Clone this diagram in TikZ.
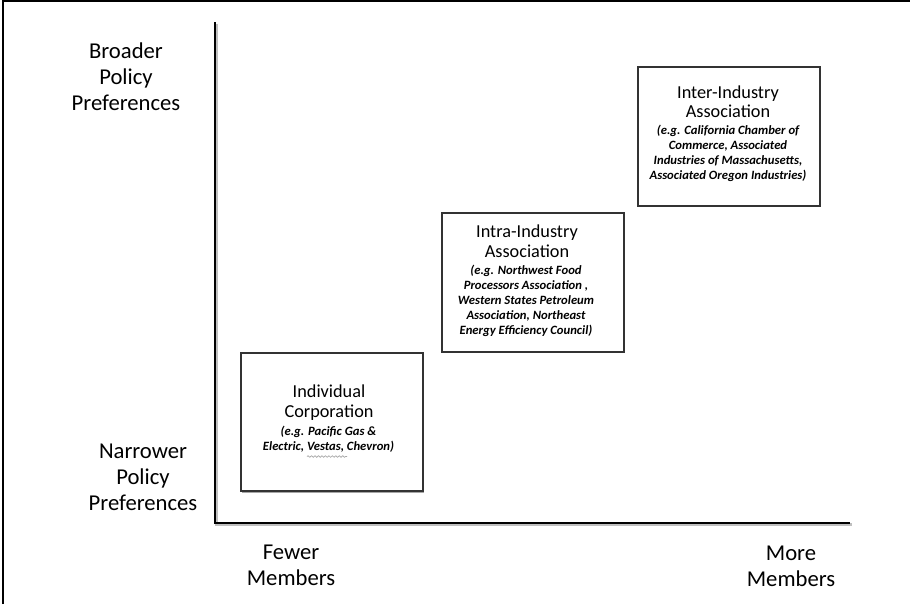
\documentclass[tikz,border=0pt]{standalone}
\usepackage{fontspec}
\setmainfont{Carlito}
\usetikzlibrary{shadows,decorations.pathmorphing}
\begin{document}
\begin{tikzpicture}[x=0.75pt,y=-0.75pt,
  axislabel/.style={align=center,inner sep=0pt,font=\fontsize{17}{19.5}\selectfont},
  catbox/.style={draw=black!80,line width=1.5pt,fill=white,inner sep=0pt,
     minimum width=136.5pt,minimum height=104pt,
     drop shadow={shadow xshift=0.9pt,shadow yshift=-0.9pt,opacity=0.35,fill=black}},
  boxtitle/.style={align=center,inner sep=0pt,font=\fontsize{13.7}{14.6}\selectfont},
  boxnote/.style={align=center,inner sep=0pt,font=\fontsize{9.5}{11.25}\selectfont\bfseries\itshape},
  axisline/.style={line width=2.2pt,black,line join=miter},
  axisshadow/.style={line width=2.2pt,black,opacity=0.25,line join=miter},
  framelines/.style={line width=1.4pt,black}
]
\useasboundingbox (0,0) rectangle (910,604);
\fill[white] (0,0) rectangle (910,604);

% outer frame (left and top edges)
\coordinate (fbl) at (3,604);
\coordinate (ftl) at (3,1);
\coordinate (ftr) at (910,1);
\draw[framelines] (fbl) -- (ftl) -- (ftr);

% axes
\coordinate (ytop) at (215,22);
\coordinate (orig) at (215,523);
\coordinate (xend) at (850,523);
\draw[axisshadow] ([shift={(1.5,1.5)}]ytop) -- ([shift={(1.5,1.5)}]orig) -- ([shift={(1.5,1.5)}]xend);
\draw[axisline] (ytop) -- (orig) -- (xend);

% axis labels
\node[axislabel] (broad) at (126,77) {Broader\\Policy\\Preferences};
\node[axislabel] (narrow) at (143,477) {Narrower\\Policy\\Preferences};
\node[axislabel] (fewer) at (291,565) {Fewer\\Members};
\node[axislabel] (more) at (791,566) {More\\Members};

% boxes
\node[catbox] (b1) at (331.5,422) {};
\node[catbox] (b2) at (533,282.5) {};
\node[catbox] (b3) at (729,136.5) {};

% box 1 text
\node[boxtitle] (b1t) at (329,402.8) {Individual\\Corporation};
\node[boxnote] (b1n) at (328.5,439) {(e.g. Pacific Gas \&\\Electric, Vestas, Chevron)};
\coordinate (vs1) at (307,456.5);
\coordinate (vs2) at (347,456.5);
\draw[gray!70,line width=0.5pt,decorate,decoration={snake,amplitude=0.6pt,segment length=2.6pt}] (vs1) -- (vs2);

% box 2 text
\node[boxtitle] (b2t) at (527,241) {Intra-Industry\\Association};
\node[boxnote] (b2n) at (526,301) {(e.g. Northwest Food\\Processors Association ,\\Western States Petroleum\\Association, Northeast\\Energy Efficiency Council)};

% box 3 text
\node[boxtitle] (b3t) at (728,101.5) {Inter-Industry\\Association};
\node[boxnote] (b3n) at (728,153.5) {(e.g. California Chamber of\\Commerce, Associated\\Industries of Massachusetts,\\Associated Oregon Industries)};
\end{tikzpicture}
\end{document}
